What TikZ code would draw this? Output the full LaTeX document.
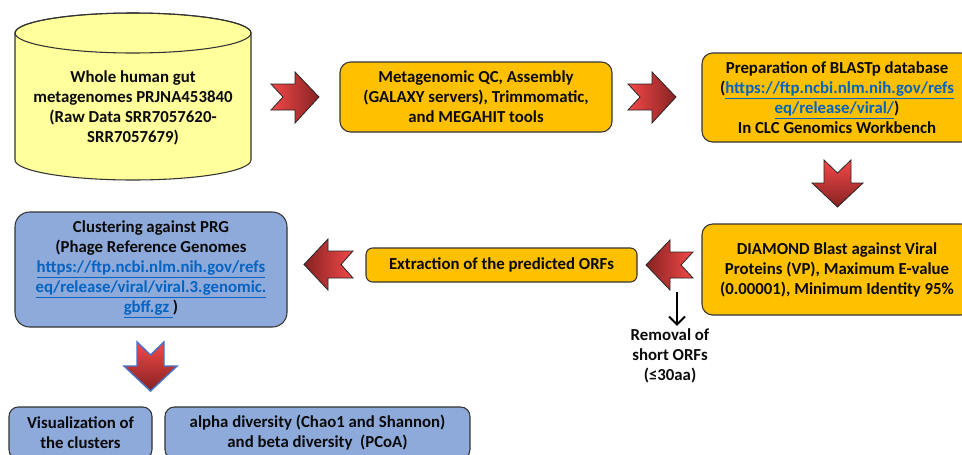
\documentclass[tikz,border=0pt]{standalone}
\usepackage{fontspec}
\setmainfont{Carlito}
\usetikzlibrary{arrows.meta}
\definecolor{orangebox}{HTML}{FFC000}
\definecolor{bluebox}{HTML}{8EAADB}
\definecolor{blueedge}{HTML}{4472C4}
\definecolor{cylyellow}{HTML}{FFFF9C}
\definecolor{linkblue}{HTML}{0563C1}
\definecolor{arrlight}{HTML}{F44848}
\definecolor{arrdark}{HTML}{862222}
\definecolor{edgegray}{HTML}{333333}
\definecolor{txt}{HTML}{0A0A0A}
\newcommand{\lnk}[1]{\textcolor{linkblue}{\underline{#1}}}
\begin{document}
\begin{tikzpicture}[x=0.75pt,y=0.75pt,
  font=\fontsize{12.6}{15}\selectfont\bfseries,
  box/.style={draw=edgegray, line width=0.8pt, rounded corners=8pt, align=center, inner sep=0pt, text=txt},
  orangestep/.style={box, fill=orangebox},
  bluestep/.style={box, fill=bluebox},
  blockarrow/.style={draw=black!85, line width=0.6pt},
  plain/.style={align=center, inner sep=1pt, text=txt}]
\useasboundingbox (0,0) rectangle (962,-454);

% cylinder
\path[fill=cylyellow, draw=edgegray, line width=0.8pt]
  (15,-33) -- (15,-160) arc (180:360:118 and 20) -- (251,-33) arc (0:180:118 and 20) -- cycle;
\draw[edgegray, line width=0.8pt] (133,-33) ellipse [x radius=118, y radius=20];
\node[plain] (gut) at (133,-107.5) {Whole human gut\\metagenomes PRJNA453840\\(Raw Data SRR7057620-\\SRR7057679)};

% boxes
\node[orangestep, minimum width=204pt, minimum height=52.5pt] (qc) at (476,-97)
  {Metagenomic QC, Assembly\\(GALAXY servers), Trimmomatic,\\and MEGAHIT tools};
\node[orangestep, minimum width=202.5pt, minimum height=66.75pt] (db) at (837,-97.5)
  {Preparation of BLASTp database\\(\lnk{https://ftp.ncbi.nlm.nih.gov/refs}\\\lnk{eq/release/viral/})\\In CLC Genomics Workbench};
\node[orangestep, minimum width=202.5pt, minimum height=68.25pt] (diamond) at (837,-269.5)
  {DIAMOND Blast against Viral\\Proteins (VP), Maximum E-value\\(0.00001), Minimum Identity 95\%};
\node[orangestep, rounded corners=5pt, minimum width=203.25pt, minimum height=25.5pt] (orfs) at (501.5,-265)
  {Extraction of the predicted ORFs};
\node[bluestep, rounded corners=11pt, minimum width=204pt, minimum height=86.25pt] (prg) at (151,-269.5)
  {Clustering against PRG\\(Phage Reference Genomes\\\lnk{https://ftp.ncbi.nlm.nih.gov/refs}\\\lnk{eq/release/viral/viral.3.genomic.}\\\lnk{gbff.gz\ })};
\node[bluestep, rounded corners=7pt, minimum width=107.25pt, minimum height=39pt] (vis) at (80.5,-433)
  {Visualization of\\the clusters};
\node[bluestep, rounded corners=7pt, minimum width=228.75pt, minimum height=39pt] (alpha) at (317.5,-433)
  {alpha diversity (Chao1 and Shannon)\\and beta diversity~ (PCoA)};

% block arrows
\path[blockarrow, left color=arrlight, right color=arrdark]
  (271,-84) -- (295,-84) -- (295,-72) -- (319,-97) -- (295,-123) -- (295,-110) -- (271,-110) -- (283,-97) -- cycle;
\path[blockarrow, left color=arrlight, right color=arrdark]
  (628,-84) -- (652,-84) -- (652,-72) -- (676,-97) -- (652,-123) -- (652,-110) -- (628,-110) -- (640,-97) -- cycle;
\path[blockarrow, top color=arrlight, bottom color=arrdark]
  (824,-160) -- (837.5,-173) -- (851,-160) -- (851,-183) -- (863,-183) -- (837.5,-207) -- (812,-183) -- (824,-183) -- cycle;
\path[blockarrow, left color=arrdark, right color=arrlight]
  (693,-252) -- (670,-252) -- (670,-240) -- (646,-265) -- (670,-290) -- (670,-278) -- (693,-278) -- (681,-265) -- cycle;
\path[blockarrow, left color=arrdark, right color=arrlight]
  (353,-251) -- (328,-251) -- (328,-239) -- (304,-264.5) -- (328,-290) -- (328,-278) -- (353,-278) -- (341,-264.5) -- cycle;
\path[draw=blueedge, line width=1.1pt, top color=arrlight, bottom color=arrdark]
  (137,-342) -- (150.5,-355) -- (164,-342) -- (164,-366) -- (177,-366) -- (150.5,-391) -- (124,-366) -- (137,-366) -- cycle;

% removal of short ORFs
\node[plain] (removal) at (670,-356) {Removal of\\short ORFs\\(≤30aa)};
\coordinate (orfcut) at (677,-292);
\draw[line width=1.5pt, -{Straight Barb[length=6pt,width=12pt]}, shorten >=1pt] (orfcut) -- (orfcut |- removal.north);
\end{tikzpicture}
\end{document}
